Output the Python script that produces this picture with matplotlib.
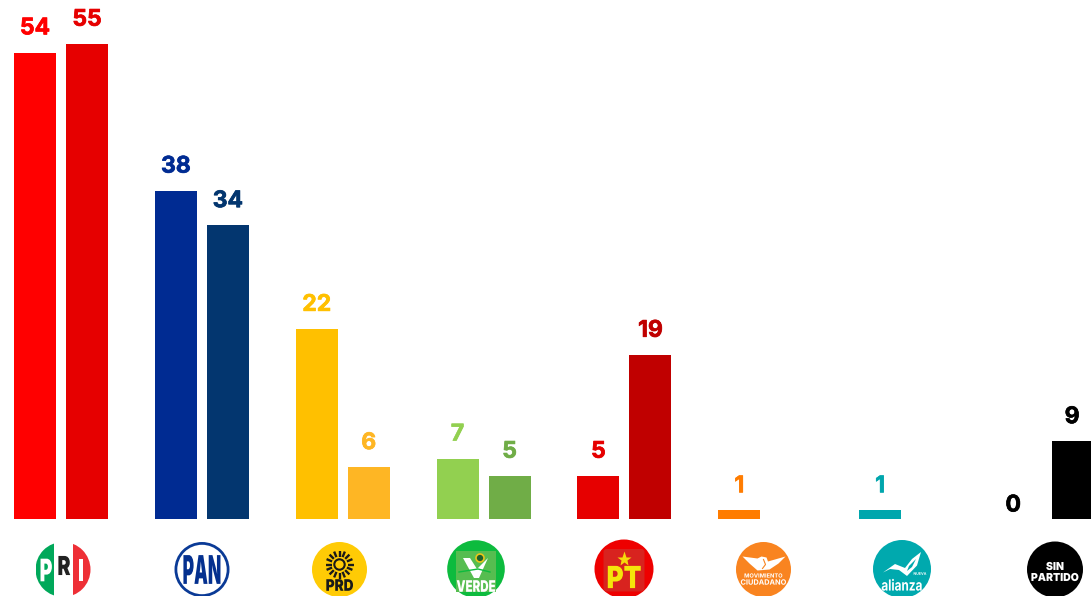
import numpy as np
import matplotlib
matplotlib.use("Agg")
import matplotlib.pyplot as plt
import matplotlib.patheffects as pe
from matplotlib.patches import Circle, Rectangle, FancyBboxPatch, Polygon
from matplotlib.transforms import Affine2D

parties = ["PRI", "PAN", "PRD", "VERDE", "PT", "MC", "NUEVA ALIANZA", "SIN PARTIDO"]
first = [54, 38, 22, 7, 5, 1, 1, 0]
second = [55, 34, 6, 5, 19, np.nan, np.nan, 9]
first_colors = ["#ff0000", "#002b92", "#ffc000", "#92d050", "#e60000", "#ff7c00", "#00a6ad", "#000000"]
second_colors = ["#e60000", "#03366f", "#feb624", "#70ad47", "#c00000", "#ff7c00", "#00a6ad", "#000000"]

FONT = "Inter"
W, H = 1091, 596
fig = plt.figure(figsize=(W / 100, H / 100), dpi=100)
ax = fig.add_axes([0, 0, 1, 1])
ax.set_axis_off()

# scales: one group = 140.85 px, one seat = 8.64 px, baseline about 519 px from top
step, unit, base = 140.85, 8.64, 519.1
ax.set_xlim(-61 / step, (W - 61) / step)
ax.set_ylim(-(H - base) / unit, base / unit)
bw, off = 42 / step, 26 / step
x = np.arange(len(parties))
ax.bar(x - off, first, bw, color=first_colors)
ax.bar(x + off, second, bw, color=second_colors)


def label(xp, v, c, dx=0, dy=17.4):
    ax.annotate(str(v), (xp, v), xytext=(dx, dy), textcoords="offset points",
                ha="center", va="center", color=c, fontsize=16.5,
                fontweight="bold", family=FONT,
                path_effects=[pe.Stroke(linewidth=0.5, foreground=c), pe.Normal()])


for i in x:
    if first[i] == 0:
        label(i - off, first[i], first_colors[i], dx=-5.6, dy=9.8)
    else:
        label(i - off, first[i], first_colors[i])
    if not np.isnan(second[i]):
        label(i + off, second[i], second_colors[i], dx=-0.6 if i == 7 else 0)

# logos, drawn in pixel coordinates on an overlay
lx = fig.add_axes([0, 0, 1, 1], facecolor="none")
lx.set_axis_off()
lx.set_xlim(0, W)
lx.set_ylim(H, 0)


class Squeeze(pe.AbstractPathEffect):
    """Stretch glyphs about a display point, for the condensed lettering of the logos."""

    def __init__(self, centre, sx, sy):
        super().__init__()
        self.t = Affine2D().translate(-centre[0], -centre[1]).scale(sx, sy).translate(*centre)

    def draw_path(self, renderer, gc, tpath, affine, rgbFace=None):
        renderer.draw_path(gc, tpath, affine + self.t, rgbFace)


def disc(cx, cy, r, c):
    p = Circle((cx, cy), r, fc=c, ec="none")
    lx.add_patch(p)
    return p


def txt(cx, cy, s, c, size, sx=1.0, sy=1.0, weight="bold"):
    # baseline placed so the capitals are centred on cy
    t = lx.text(cx, cy + size * 0.505, s, color=c, fontsize=size, fontweight=weight,
                family=FONT, ha="center", va="baseline")
    centre = lx.transData.transform((cx, cy))
    t.set_path_effects([Squeeze(centre, sx, sy)])
    return t


# PRI
cx, cy, r = 63, 569.5, 27.5
clip = disc(cx, cy, r, "white")
for xl, xr, c in [(cx - r, 54, "#00a85a"), (54, 72.5, "#ffffff"), (72.5, cx + r, "#ee2f36")]:
    rect = Rectangle((xl, cy - r), xr - xl, 2 * r, fc=c, ec="none")
    lx.add_patch(rect)
    rect.set_clip_path(clip)
txt(46, 570, "P", "white", 14, 1.0, 1.6, "black")
txt(64, 565.5, "R", "#222222", 14, 1.0, 1.35, "black")
txt(81, 570, "I", "white", 14, 1.0, 1.6, "black")

# PAN
cx, cy, r = 202, 569.5, 27.5
lx.add_patch(Circle((cx, cy), r - 1.4, fc="white", ec="#0a3a96", lw=2.0))
txt(cx, cy, "PAN", "#04308f", 19, 0.66, 1.5, "black")

# PRD
cx, cy, r = 339.5, 569.5, 27.5
disc(cx, cy, r, "#ffcb05")
sc = (cx, 564.5)
for a in np.deg2rad(np.arange(0, 360, 22.5)):
    lx.plot([sc[0] + 8 * np.cos(a), sc[0] + 14 * np.cos(a)],
            [sc[1] + 8 * np.sin(a), sc[1] + 14 * np.sin(a)], color="#1a1a1a", lw=1.7,
            solid_capstyle="butt")
lx.add_patch(Circle(sc, 5.2, fc="#ffcb05", ec="#1a1a1a", lw=1.5))
txt(cx, 585, "PRD", "#1a1a1a", 11.5, 0.85, 1.0, "black")

# VERDE
cx, cy, r = 476, 569, 28.8
disc(cx, cy, r, "#0dbb3e")
lx.add_patch(Rectangle((cx - 20, 551), 40, 41, fc="#56bd50", ec="none"))
lx.add_patch(Polygon([(cx - 13, 558), (cx - 6, 558), (cx + 1, 569), (cx + 12, 558), (cx + 3, 578),
                      (cx - 2, 578)], fc="white", ec="none"))
lx.plot([cx - 17, cx + 2, cx + 14], [572, 569, 572], color="#0dbb3e", lw=1.0)
lx.add_patch(Circle((cx + 4, 558), 4, fc="#1f5f2c", ec="#e8c51a", lw=1.2))
txt(cx, 586, "VERDE", "white", 11.5, 0.72, 1.0, "black")

# PT
cx, cy, r = 624, 569, 29.5
disc(cx, cy, r, "#ee0000")
lx.add_patch(FancyBboxPatch((cx - 20.5, 549), 41, 42.5, boxstyle="round,pad=0,rounding_size=3",
                            fc="#d8231f", ec="none"))
txt(cx, 577, "PT", "#f5e50a", 22, 0.85, 1.0, "black")
lx.plot([cx], [559], marker="*", ms=11, color="#f5d90a", mec="none")

# Movimiento Ciudadano
cx, cy, r = 763.5, 569.5, 27.5
disc(cx, cy, r, "#f98420")
lx.add_patch(Polygon([(cx + dx, cy + dy) for dx, dy in
                      [(-21, -13), (-6, -11), (-2, -13), (3, -12), (4.5, -8), (22, -13), (15, -6),
                       (6, 0), (-6, 1), (-14, -6)]], fc="white", ec="none"))
lx.plot([cx, cx + 2, cx - 1], [cy - 10, cy - 5, cy - 1], color="#f98420", lw=0.8)
txt(cx, 575.5, "MOVIMIENTO", "white", 4.1)
txt(cx, 582, "CIUDADANO", "white", 5.3)

# Nueva Alianza
cx, cy, r = 902, 569, 29
disc(cx, cy, r, "#00a9ae")
lx.add_patch(Polygon([(cx + dx, cy + dy) for dx, dy in
                      [(-19, 3.5), (-7, -5), (3, -1), (10, -10), (19, -17), (15, -3.5), (5, 7),
                       (-3, 1), (-12, 0)]], fc="white", ec="none"))
lx.add_patch(Polygon([(cx + dx, cy + dy) for dx, dy in
                      [(7, -3), (14, -10), (10, -2), (5, 2)]], fc="#00a9ae", ec="none"))
txt(cx, 585, "alianza", "white", 10, 0.85, 1.1)
txt(cx + 18, 573.5, "NUEVA", "white", 2.6)

# Sin partido
cx, cy, r = 1055, 569.5, 28
disc(cx, cy, r, "#000000")
txt(cx, 566, "SIN", "white", 7.5, 1.0, 1.05, "black")
txt(cx, 577, "PARTIDO", "white", 7.5, 1.0, 1.05, "black")

fig.savefig("out.png", dpi=100)
